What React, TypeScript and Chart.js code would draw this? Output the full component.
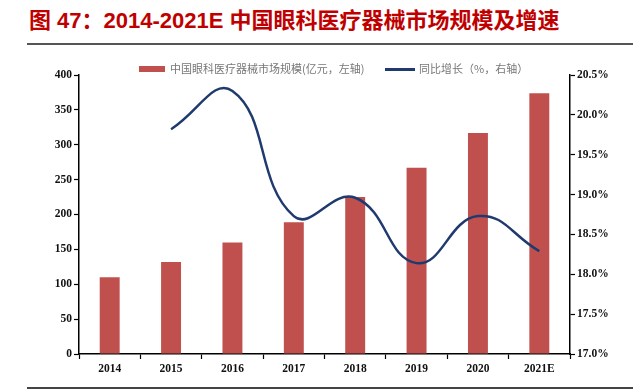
import React, { useEffect, useRef } from "react";
import { Chart, registerables } from "chart.js";

Chart.register(...registerables);

const categories = ["2014", "2015", "2016", "2017", "2018", "2019", "2020", "2021E"];
const marketSize = [110, 132, 160, 189, 225, 267, 317, 374];
const growthRate = [null, 19.82, 20.3, 18.73, 18.96, 18.14, 18.73, 18.29];
const leftTicks = { min: 0, max: 400, step: 50 };
const rightTicks = { min: 17, max: 20.5, step: 0.5 };

const titleText = "图 47：2014-2021E 中国眼科医疗器械市场规模及增速";
const barLabel = "中国眼科医疗器械市场规模(亿元，左轴)";
const lineLabel = "同比增长（%，右轴）";

const BAR_COLOR = "#C0504D";
const LINE_COLOR = "#1F3A6E";
const TICK_FONT = { family: "'Liberation Serif', 'DejaVu Serif', serif", size: 11.5, weight: "bold" as const };

export default function App() {
  const canvasRef = useRef<HTMLCanvasElement | null>(null);

  useEffect(() => {
    if (!canvasRef.current) return;
    const chart = new Chart(canvasRef.current, {
      data: {
        labels: categories,
        datasets: [
          {
            type: "line" as const,
            label: lineLabel,
            data: growthRate as any,
            yAxisID: "y1",
            borderColor: LINE_COLOR,
            backgroundColor: LINE_COLOR,
            borderWidth: 2.5,
            pointRadius: 0,
            tension: 0.45,
            order: 0,
          },
          {
            type: "bar" as const,
            label: barLabel,
            data: marketSize,
            yAxisID: "y",
            backgroundColor: BAR_COLOR,
            categoryPercentage: 1,
            barPercentage: 0.325,
            order: 1,
          },
        ],
      },
      options: {
        responsive: false,
        animation: false,
        layout: { padding: { top: 75, left: 0, right: 0, bottom: 0 } },
        plugins: { legend: { display: false }, tooltip: { enabled: false }, title: { display: false } },
        scales: {
          x: {
            offset: true,
            border: { display: true, color: "#000", width: 1.5 },
            grid: { offset: true, drawOnChartArea: false, drawTicks: true, tickLength: 5, tickColor: "#000", tickWidth: 1.2 },
            ticks: { color: "#111", font: TICK_FONT, padding: 3, maxRotation: 0 },
            afterFit: (s: any) => { s.height = 37; },
          },
          y: {
            position: "left",
            min: leftTicks.min,
            max: leftTicks.max,
            border: { display: true, color: "#000", width: 1.5 },
            grid: { drawOnChartArea: false, drawTicks: true, tickLength: 5, tickColor: "#000", tickWidth: 1.2 },
            ticks: { stepSize: leftTicks.step, color: "#111", font: TICK_FONT, padding: 2 },
            afterFit: (s: any) => { s.width = 79; },
          },
          y1: {
            position: "right",
            min: rightTicks.min,
            max: rightTicks.max,
            border: { display: true, color: "#000", width: 1.5 },
            grid: { drawOnChartArea: false, drawTicks: true, tickLength: 5, tickColor: "#000", tickWidth: 1.2 },
            ticks: {
              stepSize: rightTicks.step,
              color: "#111",
              font: TICK_FONT,
              padding: 2,
              callback: (v: any) => Number(v).toFixed(1) + "%",
            },
            afterFit: (s: any) => { s.width = 70; },
          },
        },
      },
    });
    return () => chart.destroy();
  }, []);

  const legendText: React.CSSProperties = {
    position: "absolute",
    top: 61,
    fontFamily: "'Noto Sans CJK SC', sans-serif",
    fontSize: 11,
    color: "#777",
    lineHeight: "15px",
    whiteSpace: "nowrap",
  };

  return (
    <div style={{ position: "fixed", left: 0, top: 0, width: 640, height: 391, background: "#fff", overflow: "hidden" }}>
      <div
        style={{
          position: "absolute",
          left: 29,
          top: 6,
          fontFamily: "'Liberation Sans', 'Noto Sans CJK SC', Arial, sans-serif",
          fontWeight: "bold",
          fontSize: 22,
          color: "#C00000",
          whiteSpace: "nowrap",
          lineHeight: "30px",
        }}
      >
        {titleText}
      </div>
      <div style={{ position: "absolute", left: 27, top: 43, width: 606, height: 2, background: "#555" }} />
      <div style={{ position: "absolute", left: 27, top: 387, width: 606, height: 2, background: "#444" }} />
      <canvas ref={canvasRef} width={640} height={391} style={{ position: "absolute", left: 0, top: 0 }} />
      <div style={{ position: "absolute", left: 139, top: 66, width: 26, height: 6, background: BAR_COLOR }} />
      <div style={{ ...legendText, left: 170 }}>{barLabel}</div>
      <div style={{ position: "absolute", left: 385, top: 68, width: 30, height: 2.5, background: LINE_COLOR }} />
      <div style={{ ...legendText, left: 419 }}>{lineLabel}</div>
    </div>
  );
}
